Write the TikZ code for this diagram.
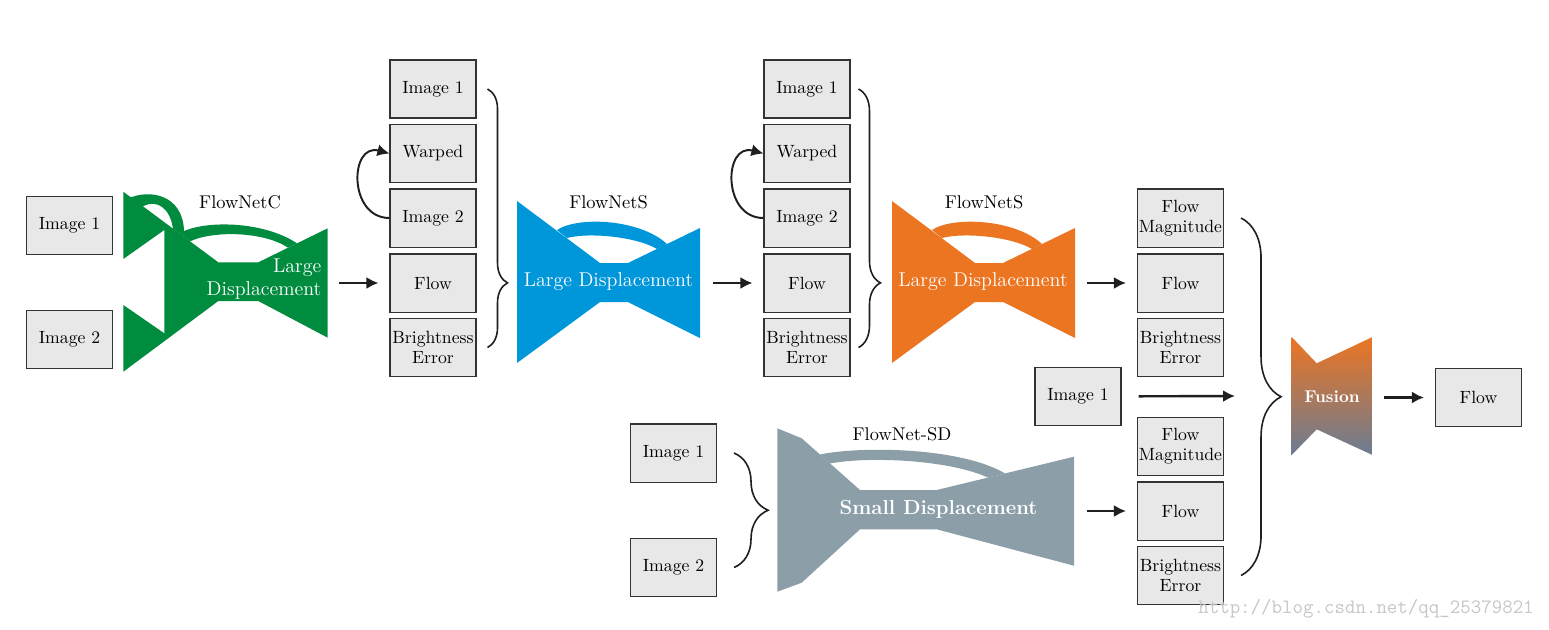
\documentclass[tikz,border=0pt]{standalone}
\usepackage{tikz}
\usetikzlibrary{arrows.meta,decorations.pathreplacing}

\definecolor{netgreen}{HTML}{008C3E}
\definecolor{netblue}{HTML}{0096DA}
\definecolor{netorange}{HTML}{EC7522}
\definecolor{netgray}{HTML}{8C9EA8}
\definecolor{boxgray}{HTML}{E8E8E8}
\definecolor{fusebot}{HTML}{6B7C93}

\tikzset{
	box/.style={draw=black!80, line width=0.6pt, fill=boxgray, minimum width=48.6pt, minimum height=32.8pt,
		inner sep=0pt, align=center, font=\fontsize{10}{11.3}\selectfont},
	arr/.style={-{Latex[length=6.8pt,width=6.8pt]}, line width=1.35pt, draw=black!88},
	brc/.style={decorate, decoration={brace, amplitude=#1}, line width=0.9pt, draw=black!88},
	netname/.style={font=\fontsize{10.4}{12}\selectfont},
	inlabel/.style={text=white, font=\fontsize{11.3}{13}\selectfont},
	lgnet/.pic={
		\fill[pic actions] (0,0) -- (83,62) -- (111,62) -- (183,27) -- (183,137) -- (111,101) -- (83,101) -- (0,162) -- cycle;
		\fill[pic actions] (40,29) .. controls (61,15) and (123,18) .. (150,43) -- (140,48) .. controls (120,36) and (73,31) .. (50,37) -- cycle;
	}
}

\begin{document}
\begin{tikzpicture}[x=0.565pt,y=-0.565pt]
	\fill[white] (0,0) rectangle (1549,629);
	\useasboundingbox (0,0) rectangle (1549,629);

	% FlowNetC
	\node[box] (inA1) at (69.5,225.5) {Image 1};
	\node[box] (inA2) at (69.5,339.5) {Image 2};
	\fill[netgreen] (123.3,191.7) -- (218.3,262.3) -- (258.3,262.3) -- (327.7,228.3) -- (327.7,337.7) -- (258.3,301) -- (218.3,301)
		-- (123.3,371.7) -- (123.3,305) -- (164.3,333.3) -- (164.3,230) -- (123.3,259) -- cycle;
	\fill[netgreen] (127,199) .. controls (150,188) and (183,195) .. (184,231) .. controls (210,220) and (265,222) .. (297,243.3)
		-- (288,247.7) .. controls (265,232) and (215,230) .. (190,241.3) -- (173,228.6) .. controls (170,208) and (157,199) .. (143,206.3) -- cycle;
	\node[netname] (nameC) at (240,202) {FlowNetC};
	\node[inlabel, align=right] (txtC) at (264,279.5) {Large\\Displacement};
	\coordinate (outC) at (327.7,283);

	% first FlowNetS
	\node[box] (imB1) at (433,89) {Image 1};
	\node[box] (wpB) at (433,153.5) {Warped};
	\node[box] (imB2) at (433,218) {Image 2};
	\node[box] (flB) at (433,283) {Flow};
	\node[box] (erB) at (433,347.5) {Brightness\\Error};
	\pic[fill=netblue] at (517,201) {lgnet};
	\node[netname] (nameS1) at (608.5,202.5) {FlowNetS};
	\node[inlabel] (txtS1) at (608.5,282) {Large Displacement};
	\coordinate (outS1) at (700,283);

	% second FlowNetS
	\node[box] (imD1) at (807,89) {Image 1};
	\node[box] (wpD) at (807,153.5) {Warped};
	\node[box] (imD2) at (807,218) {Image 2};
	\node[box] (flD) at (807,283) {Flow};
	\node[box] (erD) at (807,347.5) {Brightness\\Error};
	\pic[fill=netorange] at (892,201) {lgnet};
	\node[netname] (nameS2) at (984,202) {FlowNetS};
	\node[inlabel] (txtS2) at (983,282) {Large Displacement};
	\coordinate (outS2) at (1074,283);

	% FlowNet-SD
	\node[box] (imG1) at (673.5,453) {Image 1};
	\node[box] (imG2) at (673.5,567.5) {Image 2};
	\fill[netgray] (777.3,428.3) -- (801.7,438.3) -- (860,490) -- (936.7,490) -- (1074,456.7) -- (1074,565.7) -- (936.7,529.3) -- (860,529.3)
		-- (801.7,582.7) -- (777.3,591.7) -- cycle;
	\fill[netgray] (820,454.5) .. controls (860,446) and (960,447) .. (1005,473.4) -- (988,477.6) .. controls (950,460) and (870,456) .. (830,463.5) -- cycle;
	\node[netname] (nameSD) at (902,434) {FlowNet-SD};
	\node[inlabel, font=\bfseries\fontsize{11.5}{13}\selectfont] (txtSD) at (938.5,509) {Small Displacement};
	\coordinate (outSD) at (1074,511);

	% fusion inputs
	\node[box] (fmE) at (1180.5,218) {Flow\\Magnitude};
	\node[box] (flE) at (1180.5,283) {Flow};
	\node[box] (erE) at (1180.5,347.5) {Brightness\\Error};
	\node[box] (imM) at (1078,396.5) {Image 1};
	\node[box] (fmF) at (1180.5,446.5) {Flow\\Magnitude};
	\node[box] (flF) at (1180.5,511) {Flow};
	\node[box] (erF) at (1180.5,575.5) {Brightness\\Error};
	\coordinate (inFu) at (1240,396);

	% fusion
	\shade[top color=netorange, bottom color=fusebot] (1291.7,337) -- (1316.7,363.3) -- (1372.5,337) -- (1372.5,455) -- (1316.7,429.3)
		-- (1291.7,455) -- cycle;
	\node[text=white, font=\bfseries\fontsize{9.6}{11}\selectfont] (txtFu) at (1332,397) {Fusion};
	\coordinate (outFu) at (1372.5,397.5);
	\node[box] (flOut) at (1478.5,397.5) {Flow};

	% connectors
	\draw[arr, line width=1.1pt] (imB2.west) to[out=180,in=165,looseness=1.65] (wpB.west);
	\draw[arr, line width=1.1pt] (imD2.west) to[out=180,in=165,looseness=1.65] (wpD.west);
	\draw[arr, shorten <=6.2pt, shorten >=6.2pt] (outC) -- (flB);
	\draw[arr, shorten <=7.3pt, shorten >=6.2pt] (outS1) -- (flD);
	\draw[arr, shorten <=7.3pt, shorten >=6.2pt] (outS2) -- (flE);
	\draw[arr, shorten <=7.3pt, shorten >=6.2pt] (outSD) -- (flF);
	\draw[arr, shorten <=9.6pt, shorten >=2.8pt] (imM) -- (inFu);
	\draw[arr, shorten <=6.5pt, shorten >=6.2pt] (outFu) -- (flOut);

	% braces
	\draw[brc=11.3pt, decoration={aspect=0.75}] ([xshift=6.2pt]imB1.east) -- ([xshift=6.2pt]erB.east);
	\draw[brc=12.4pt, decoration={aspect=0.75}] ([xshift=4.5pt]imD1.east) -- ([xshift=4.5pt]erD.east);
	\draw[brc=22.6pt] ([xshift=9.6pt]fmE.east) -- ([xshift=9.6pt]erF.east);
	\draw[brc=19.2pt] ([xshift=9.6pt]imG1.east) -- ([xshift=9.6pt]imG2.east);

	\node[text=black!22, font=\ttfamily\fontsize{11.5}{12}\selectfont] (wmark) at (1366,609) {http://blog.csdn.net/qq\_25379821};
\end{tikzpicture}
\end{document}
